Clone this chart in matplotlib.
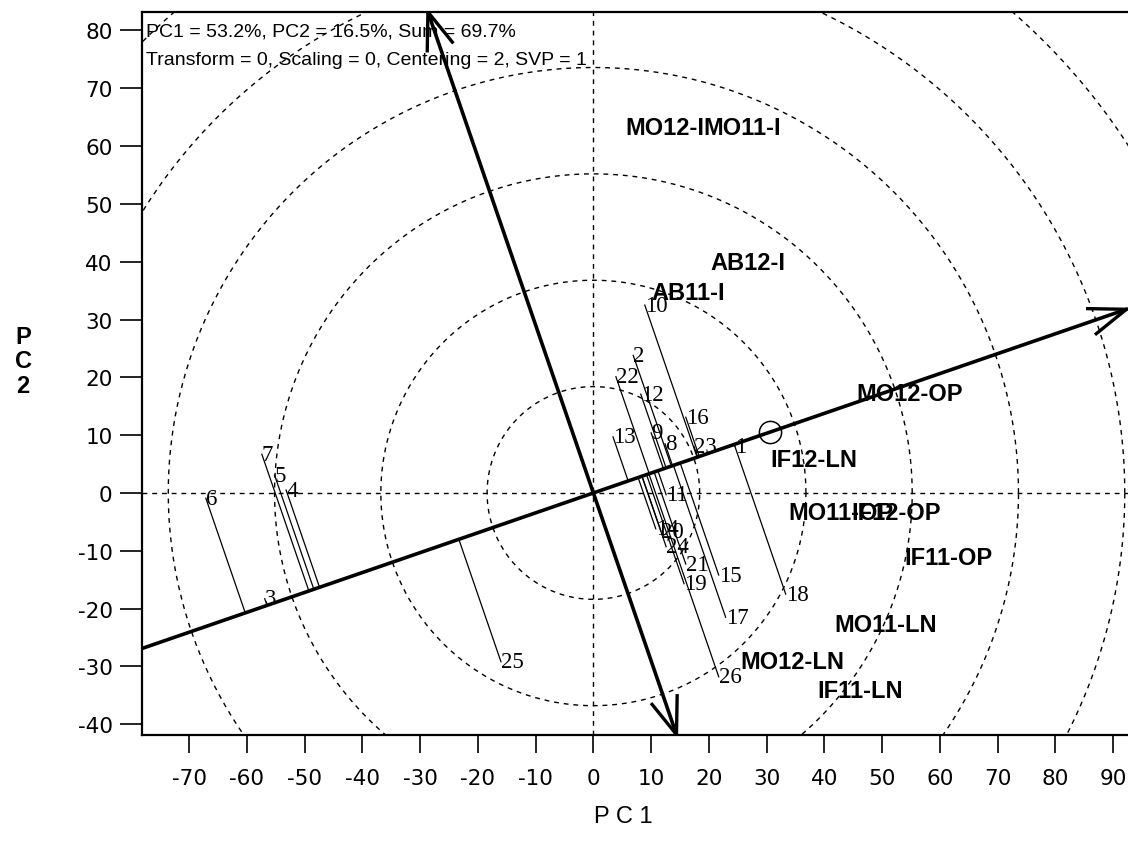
import numpy as np
import matplotlib
matplotlib.use("Agg")
import matplotlib.pyplot as plt

# GGE biplot - vista "mean vs. stability" (AEC)

header = ["PC1 = 53.2%, PC2 = 16.5%, Sum = 69.7%",
          "Transform = 0, Scaling = 0, Centering = 2, SVP = 1"]

# genotipos (PC1, PC2)
gen_labels = ['1', '2', '3', '4', '5', '6', '7', '8', '9', '10', '11', '12', '13',
              '14', '15', '16', '17', '18', '19', '20', '21', '22', '23', '24', '25', '26']
gen_pc1 = [24.5, 6.9, -56.9, -53.2, -55.2, -67.1, -57.4, 12.4, 10.0, 8.9, 12.6, 8.2, 3.4,
           10.8, 21.7, 16.0, 22.9, 33.3, 15.7, 11.7, 16.0, 3.9, 17.4, 12.6, -16.0, 21.7]
gen_pc2 = [8.1, 23.8, -18.3, 0.5, 3.1, -0.9, 6.7, 8.5, 10.4, 32.5, -0.3, 17.1, 9.7,
           -6.2, -14.2, 13.1, -21.5, -17.5, -15.7, -6.6, -12.3, 20.1, 8.1, -9.3, -29.2, -31.8]

# ambientes (solo etiquetas)
env_labels = ['MO12-I', 'MO11-I', 'AB12-I', 'AB11-I', 'MO12-OP', 'IF12-LN', 'MO11-OP',
              'IF12-OP', 'IF11-OP', 'MO11-LN', 'MO12-LN', 'IF11-LN']
env_pc1 = [5.5, 19.0, 20.2, 10.1, 45.6, 30.6, 33.7, 44.7, 53.9, 41.8, 25.4, 38.7]
env_pc2 = [62.1, 62.1, 38.8, 33.6, 16.0, 4.7, -4.5, -4.5, -12.3, -23.8, -30.2, -35.3]

# ambiente promedio y circulos
avg_env = (30.5, 10.5)
radios = [18.4, 36.8, 55.2, 73.6, 92.0, 110.4]

plt.rcParams['font.family'] = ['Liberation Sans', 'DejaVu Sans']
plt.rcParams['axes.unicode_minus'] = False

fig = plt.figure(figsize=(11.28, 8.45), dpi=100)
ax = fig.add_axes([141.7 / 1128, 109 / 845, 986.3 / 1128, 723 / 845])
ax.set_xlim(-78.2, 92.56)
ax.set_ylim(-41.87, 83.2)

guion = (0, (3.5, 3.5))
t = np.linspace(0, 2 * np.pi, 721)
for r in radios:
    ax.plot(r * np.cos(t), r * np.sin(t), color='black', lw=1.0, linestyle=guion)
ax.axhline(0, color='black', lw=1.0, linestyle=guion)
ax.axvline(0, color='black', lw=1.0, linestyle=guion)

ang = np.arctan2(avg_env[1], avg_env[0])
d = np.array([np.cos(ang), np.sin(ang)])
p = np.array([-np.sin(ang), np.cos(ang)])


def punta(tip, direc, largo=7.0, abre=np.radians(20)):
    back = -direc
    for s in (abre, -abre):
        rot = np.array([back[0] * np.cos(s) - back[1] * np.sin(s),
                        back[0] * np.sin(s) + back[1] * np.cos(s)])
        ax.plot([tip[0], tip[0] + largo * rot[0]], [tip[1], tip[1] + largo * rot[1]],
                color='black', lw=2.4, solid_capstyle='butt')


# eje AEC abscisa
ini = -95 * d
fin = 97.6 * d
ax.plot([ini[0], fin[0]], [ini[1], fin[1]], color='black', lw=2.6)
punta(fin, d)
# eje AEC ordenada
arriba = 88.0 * p
abajo = -44.2 * p
ax.plot([abajo[0], arriba[0]], [abajo[1], arriba[1]], color='black', lw=2.6)
punta(arriba, p)
punta(abajo, -p)

ax.plot(avg_env[0], avg_env[1], marker='o', ms=16, mfc='none', mec='black', mew=1.1)

# proyecciones de genotipos
for lab, x, y in zip(gen_labels, gen_pc1, gen_pc2):
    pr = x * d[0] + y * d[1]
    ax.plot([x, pr * d[0]], [y, pr * d[1]], color='black', lw=0.9)
    ax.text(x, y, lab, fontsize=16.5, family=['Liberation Serif', 'DejaVu Serif'],
            ha='left', va='center')

for lab, x, y in zip(env_labels, env_pc1, env_pc2):
    ax.text(x, y, lab, fontsize=17, fontweight='bold', ha='left', va='baseline')

ax.text(-77.5, 79.1, header[0], fontsize=14, ha='left', va='baseline')
ax.text(-77.5, 74.2, header[1], fontsize=14, ha='left', va='baseline')

ax.set_xticks(np.arange(-70, 91, 10))
ax.set_yticks(np.arange(-40, 81, 10))
ax.tick_params(axis='x', length=13, width=1.2, pad=11, labelsize=15.5)
ax.tick_params(axis='y', length=16, width=1.2, pad=5, labelsize=15.5)
for lbl in ax.get_xticklabels() + ax.get_yticklabels():
    lbl.set_family('DejaVu Sans')
ax.spines['right'].set_visible(False)
for s in ['left', 'top', 'bottom']:
    ax.spines[s].set_linewidth(1.6)

fig.text(623 / 1128, 1 - 817 / 845, "P C 1", fontsize=17, ha='center', va='center')
fig.text(23 / 1128, 1 - 362 / 845, "P\nC\n2", fontsize=17, fontweight='bold',
         ha='center', va='center', linespacing=1.1)

fig.savefig("out.png", dpi=100)
